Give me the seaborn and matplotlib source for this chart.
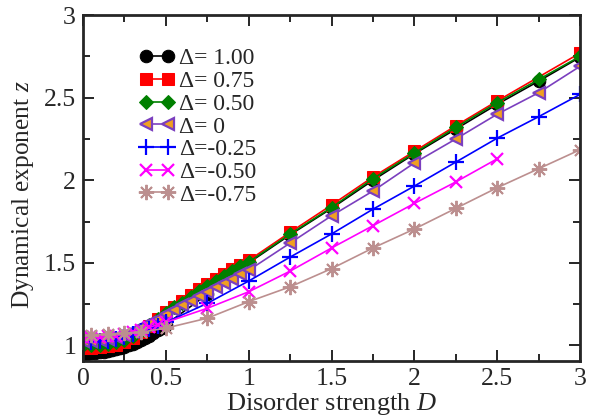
import matplotlib
matplotlib.use("Agg")
import matplotlib.pyplot as plt
import seaborn as sns
import pandas as pd
from matplotlib.ticker import MultipleLocator, FuncFormatter

# ---- data ----
labels = ["Δ= 1.00", "Δ= 0.75", "Δ= 0.50", "Δ= 0", "Δ=-0.25", "Δ=-0.50", "Δ=-0.75"]

d_black = [0, 0.025, 0.05, 0.075, 0.1, 0.125, 0.15, 0.175, 0.2, 0.225, 0.25, 0.275, 0.3,
           0.325, 0.35, 0.375, 0.4, 0.425, 0.45, 0.475, 0.5, 0.75, 1.0,
           1.25, 1.5, 1.75, 2.0, 2.25, 2.5, 2.75, 3.0]
z_black = [0.950, 0.951, 0.953, 0.955, 0.958, 0.961, 0.965, 0.970, 0.976, 0.983, 0.991, 1.000, 1.010,
           1.021, 1.033, 1.046, 1.060, 1.075, 1.091, 1.108, 1.126, 1.31, 1.50,
           1.67, 1.83, 2.00, 2.16, 2.31, 2.46, 2.60, 2.745]

d_red = [0, 0.05, 0.1, 0.15, 0.2, 0.25, 0.3, 0.35, 0.4, 0.45, 0.5, 0.55, 0.6, 0.65, 0.7,
         0.75, 0.8, 0.85, 0.9, 0.95, 1.0, 1.25, 1.5, 1.75, 2.0, 2.25, 2.5, 3.0]
z_red = [0.985, 0.985, 0.99, 0.995, 1.005, 1.02, 1.045, 1.08, 1.12, 1.16, 1.20, 1.235, 1.27, 1.305, 1.34,
         1.37, 1.40, 1.43, 1.46, 1.49, 1.515, 1.685, 1.85, 2.02, 2.175, 2.33, 2.48, 2.77]

d_green = [0, 0.05, 0.1, 0.15, 0.2, 0.25, 0.3, 0.35, 0.4, 0.45, 0.5, 0.55, 0.6, 0.65, 0.7,
           0.75, 0.8, 0.85, 0.9, 0.95, 1.0, 1.25, 1.5, 1.75, 2.0, 2.25, 2.5, 2.75, 3.0]
z_green = [1.0, 1.0, 1.005, 1.01, 1.02, 1.035, 1.06, 1.09, 1.125, 1.16, 1.195, 1.23, 1.26, 1.295, 1.33,
           1.36, 1.39, 1.42, 1.45, 1.48, 1.505, 1.675, 1.835, 2.01, 2.165, 2.32, 2.47, 2.61, 2.75]

d_purple = [0, 0.05, 0.1, 0.15, 0.2, 0.25, 0.3, 0.35, 0.4, 0.45, 0.5, 0.55, 0.6, 0.65, 0.7,
            0.75, 0.8, 0.85, 0.9, 0.95, 1.0, 1.25, 1.5, 1.75, 2.0, 2.25, 2.5, 2.75, 3.0]
z_purple = [1.03, 1.03, 1.035, 1.04, 1.05, 1.065, 1.085, 1.11, 1.135, 1.16, 1.19, 1.215, 1.245, 1.27, 1.30,
            1.325, 1.355, 1.38, 1.405, 1.43, 1.455, 1.62, 1.785, 1.935, 2.105, 2.25, 2.40, 2.53, 2.69]

d_blue = [0, 0.05, 0.1, 0.15, 0.2, 0.25, 0.3, 0.35, 0.4, 0.45, 0.5, 0.75, 1.0,
          1.25, 1.5, 1.75, 2.0, 2.25, 2.5, 2.75, 3.0]
z_blue = [1.02, 1.02, 1.025, 1.03, 1.04, 1.05, 1.07, 1.085, 1.10, 1.12, 1.14, 1.255, 1.39,
          1.535, 1.675, 1.825, 1.965, 2.11, 2.255, 2.385, 2.52]

d_magenta = [0, 0.05, 0.1, 0.15, 0.2, 0.25, 0.3, 0.35, 0.4, 0.45, 0.5, 0.75, 1.0,
             1.25, 1.5, 1.75, 2.0, 2.25, 2.5]
z_magenta = [1.05, 1.05, 1.05, 1.055, 1.06, 1.07, 1.08, 1.095, 1.11, 1.125, 1.14, 1.225, 1.325,
             1.45, 1.59, 1.725, 1.86, 1.99, 2.13]

d_brown = [0.05, 0.15, 0.25, 0.35, 0.5, 0.75, 1.0, 1.25, 1.5, 1.75, 2.0, 2.25, 2.5, 2.75, 3.0]
z_brown = [1.065, 1.07, 1.075, 1.08, 1.105, 1.165, 1.265, 1.355, 1.465, 1.59, 1.705, 1.83, 1.955, 2.07, 2.185]

series_d = [d_black, d_red, d_green, d_purple, d_blue, d_magenta, d_brown]
series_z = [z_black, z_red, z_green, z_purple, z_blue, z_magenta, z_brown]

# ---- style ----
sns.set_theme(style="ticks")
plt.rcParams["font.family"] = ["Liberation Serif", "DejaVu Serif"]
plt.rcParams["mathtext.fontset"] = "custom"
plt.rcParams["mathtext.rm"] = "Liberation Serif"
plt.rcParams["mathtext.it"] = "Liberation Serif:italic"

styles = [
    dict(color="black", marker="o", markersize=9, mfc="black", mec="black"),
    dict(color="red", marker="s", markersize=8.5, mfc="red", mec="red"),
    dict(color="green", marker="D", markersize=7, mfc="green", mec="green"),
    dict(color="#7b3fbf", marker="<", markersize=9, mfc="#f0a020", mec="#7b3fbf", mew=1.6),
    dict(color="blue", marker="+", markersize=11, mec="blue", mew=1.6),
    dict(color="magenta", marker="x", markersize=8.5, mec="magenta", mew=1.6),
    dict(color="#bc8f8f", marker=(8, 2, 0), markersize=11, mec="#bc8f8f", mew=1.4),
]

fig = plt.figure(figsize=(5.95, 4.18), dpi=100)
ax = fig.add_axes([0.1395, 0.136, 0.8355, 0.828])

for lab, dd, zz, st in zip(labels, series_d, series_z, styles):
    df = pd.DataFrame({"D": dd, "z": zz})
    sns.lineplot(data=df, x="D", y="z", ax=ax, sort=False, label=lab,
                 linewidth=1.2, **st)

ax.set_xlim(0, 3)
ax.set_ylim(0.905, 3)
ax.xaxis.set_major_locator(MultipleLocator(0.5))
ax.xaxis.set_minor_locator(MultipleLocator(0.25))
ax.yaxis.set_major_locator(MultipleLocator(0.5))
ax.yaxis.set_minor_locator(MultipleLocator(0.25))
fmt = FuncFormatter(lambda v, p: ("%g" % v))
ax.xaxis.set_major_formatter(fmt)
ax.yaxis.set_major_formatter(fmt)

ax.tick_params(which="both", direction="in", top=True, right=True, labelsize=18.5, pad=5)
ax.tick_params(which="major", length=8, width=1.4)
ax.tick_params(which="minor", length=5, width=1.4)
for sp in ax.spines.values():
    sp.set_linewidth(2)
    sp.set_visible(True)

ax.set_xlabel("Disorder strength $D$", fontsize=19, labelpad=1)
ax.set_ylabel("Dynamical exponent $z$", fontsize=18.3)
ax.yaxis.set_label_coords(-0.095, 0.482)

leg = ax.legend(loc="upper left", bbox_to_anchor=(0.113, 0.905), frameon=False, fontsize=17,
                handlelength=1.5, handletextpad=0.2, labelspacing=0.05, borderaxespad=0,
                borderpad=0, numpoints=2)

fig.savefig("out.png", dpi=100)
